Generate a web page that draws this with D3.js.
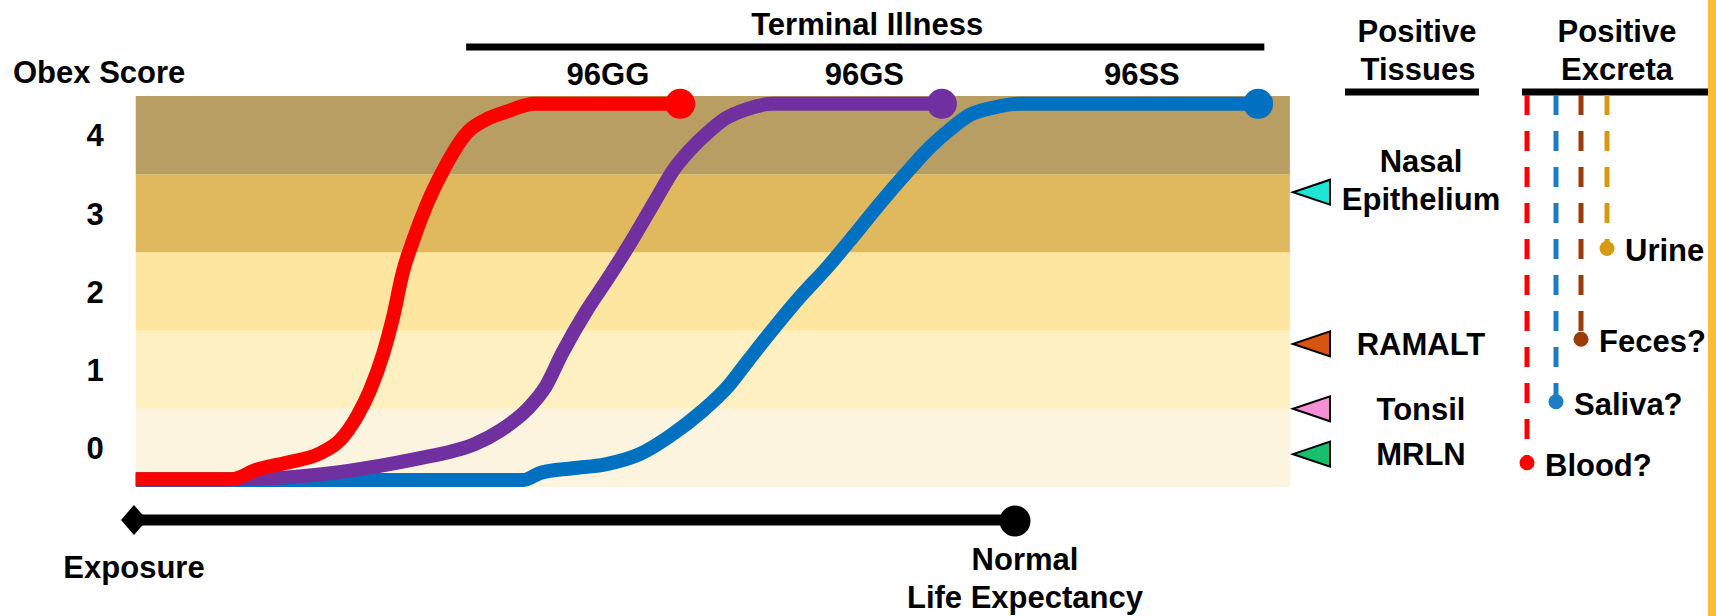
<!DOCTYPE html>
<html>
<head>
<meta charset="utf-8">
<script src="https://cdn.jsdelivr.net/npm/d3@7"></script>
<style>
  body { margin: 0; background: #fff; }
  text { font-family: "Liberation Sans", Arial, sans-serif; font-weight: bold; font-size: 31px; fill: #000; }
</style>
</head>
<body>
<svg id="chart" width="1716" height="616"></svg>
<script>
// obex score bands (score 0..4), colours light -> dark
var scoreTicks = [0, 1, 2, 3, 4];
var bandColors = ["#FCF4DE", "#FEF0C0", "#FEE6A0", "#E0B95E", "#B89E62"];

// x = % of normal life expectancy after exposure
var lifeSpan = [0, 100];
var bandSpan = [0.2, 131.2];
var terminalSpan = [37.7, 128.3];

// progression curves [time, score]
var gg = [[0.2,-0.40],[11.1,-0.40],[13.9,-0.28],[17.3,-0.19],[21.1,-0.07],[23.4,0.10],[25.3,0.40],
  [26.8,0.74],[28.3,1.21],[29.4,1.67],[30.5,2.24],[31.7,2.66],[33.3,3.13],[35.1,3.55],[37.8,4.03],
  [39.8,4.19],[42.3,4.30],[45.5,4.40],[62.0,4.40]];
var gs = [[0.2,-0.40],[11.1,-0.40],[22.6,-0.32],[26.8,-0.25],[32.5,-0.13],[35.9,-0.05],[38.7,0.05],
  [41.7,0.23],[44.7,0.50],[46.7,0.78],[48.6,1.21],[51.4,1.76],[53.7,2.15],[56.5,2.65],[59.1,3.15],
  [61.4,3.58],[63.1,3.81],[65.2,4.04],[67.1,4.21],[69.5,4.33],[72.5,4.40],[91.7,4.40]];
var ss = [[0.2,-0.41],[44.2,-0.41],[46.1,-0.32],[49.8,-0.26],[53.5,-0.21],[57.4,-0.08],[60.8,0.15],
  [64.6,0.48],[67.3,0.77],[69.6,1.10],[72.2,1.47],[75.6,1.93],[78.7,2.31],[81.6,2.70],[84.7,3.13],
  [87.7,3.52],[90.4,3.85],[92.6,4.07],[94.9,4.26],[97.5,4.35],[100.6,4.40],[127.6,4.40]];
var seriesNames = ["96GG", "96GS", "96SS"];
var seriesColors = ["#FF0000", "#7030A0", "#0070C0"];
var seriesLabelX = [53.8, 82.9, 114.4];

// positive tissues, placed at obex score
var tissues = [["Nasal", "Epithelium"], ["RAMALT"], ["Tonsil"], ["MRLN"]];
var tissueScore = [3.27, 1.33, 0.5, -0.08];
var tissueColors = ["#1EE6D7", "#D6560F", "#F78FD6", "#16BE6E"];

// positive excreta, placed at obex score
var excreta = ["Blood?", "Saliva?", "Feces?", "Urine"];
var excretaScore = [-0.19, 0.59, 1.39, 2.55];
var excretaColors = ["#FF0000", "#1A7DC6", "#9C3B0A", "#D79914"];

var svg = d3.select("#chart");

var x = d3.scaleLinear().domain(lifeSpan).range([134, 1015]);
var y = d3.scaleLinear().domain([-0.5, 4.5]).range([487, 96]);

// bands
svg.append("g").selectAll("rect")
  .data(scoreTicks)
  .join("rect")
  .attr("x", x(bandSpan[0]))
  .attr("width", x(bandSpan[1]) - x(bandSpan[0]))
  .attr("y", function(d) { return y(d + 0.5); })
  .attr("height", function(d) { return y(d - 0.5) - y(d + 0.5); })
  .attr("fill", function(d, i) { return bandColors[i]; });

// y axis labels
var yAxis = svg.append("g")
  .attr("transform", "translate(108,0)")
  .call(d3.axisLeft(y).tickValues(scoreTicks).tickSize(0).tickPadding(0).tickFormat(d3.format("d")));
yAxis.select(".domain").remove();
yAxis.selectAll("text")
  .attr("x", -13).attr("dy", "0.35em")
  .style("text-anchor", "middle")
  .style("font-size", "31px").style("font-family", "Liberation Sans, Arial, sans-serif").style("font-weight", "bold");

svg.append("text").attr("x", 13).attr("y", 83).text("Obex Score");

// curves, blue under purple under red
var line = d3.line()
  .x(function(d) { return x(d[0]); })
  .y(function(d) { return y(d[1]); })
  .curve(d3.curveMonotoneX);

var allSeries = [gg, gs, ss];
var order = [2, 1, 0];
order.forEach(function(i) {
  svg.append("path")
    .datum(allSeries[i])
    .attr("d", line)
    .attr("fill", "none")
    .attr("stroke", seriesColors[i])
    .attr("stroke-width", 14)
    .attr("stroke-linejoin", "round");
  var last = allSeries[i][allSeries[i].length - 1];
  svg.append("circle")
    .attr("cx", x(last[0])).attr("cy", y(last[1]))
    .attr("r", 15)
    .attr("fill", seriesColors[i]);
});

svg.selectAll(".slabel")
  .data(seriesNames)
  .join("text")
  .attr("class", "slabel")
  .attr("x", function(d, i) { return x(seriesLabelX[i]); })
  .attr("y", 85)
  .attr("text-anchor", "middle")
  .text(function(d) { return d; });

// terminal illness bracket
svg.append("line")
  .attr("x1", x(terminalSpan[0])).attr("x2", x(terminalSpan[1]))
  .attr("y1", 47).attr("y2", 47)
  .attr("stroke", "#000").attr("stroke-width", 7);
svg.append("text")
  .attr("x", (x(terminalSpan[0]) + x(terminalSpan[1])) / 2 + 2).attr("y", 35)
  .attr("text-anchor", "middle").text("Terminal Illness");

// life timeline
var x0 = x(lifeSpan[0]), x1 = x(lifeSpan[1]);
svg.append("line")
  .attr("x1", x0).attr("x2", x1)
  .attr("y1", 520).attr("y2", 520)
  .attr("stroke", "#000").attr("stroke-width", 11);
svg.append("path")
  .attr("d", "M" + (x0 - 13) + ",520L" + x0 + ",505L" + (x0 + 13) + ",520L" + x0 + ",535Z")
  .attr("fill", "#000");
svg.append("circle")
  .attr("cx", x1).attr("cy", 521).attr("r", 15.5)
  .attr("fill", "#000");
svg.append("text").attr("x", x0).attr("y", 578)
  .attr("text-anchor", "middle").text("Exposure");
svg.append("text").attr("x", x1 + 10).attr("y", 570)
  .attr("text-anchor", "middle").text("Normal");
svg.append("text").attr("x", x1 + 10).attr("y", 608)
  .attr("text-anchor", "middle").text("Life Expectancy");

// positive tissues
svg.append("text").attr("x", 1417).attr("y", 42).attr("text-anchor", "middle").text("Positive");
svg.append("text").attr("x", 1418).attr("y", 80).attr("text-anchor", "middle").text("Tissues");
svg.append("line").attr("x1", 1345).attr("x2", 1479).attr("y1", 92).attr("y2", 92)
  .attr("stroke", "#000").attr("stroke-width", 7);

var tis = svg.append("g").selectAll("g")
  .data(tissues)
  .join("g")
  .attr("transform", function(d, i) { return "translate(0," + y(tissueScore[i]) + ")"; });
tis.append("path")
  .attr("d", "M1293,0L1330,-12.5L1330,12.5Z")
  .attr("fill", function(d, i) { return tissueColors[i]; })
  .attr("stroke", "#000").attr("stroke-width", 2);
tis.each(function(d) {
  var g = d3.select(this);
  d.forEach(function(t, k) {
    g.append("text")
      .attr("x", 1421)
      .attr("y", d.length > 1 ? (k === 0 ? -20 : 18) : 11)
      .attr("text-anchor", "middle")
      .text(t);
  });
});

// positive excreta
svg.append("text").attr("x", 1617).attr("y", 42).attr("text-anchor", "middle").text("Positive");
svg.append("text").attr("x", 1617).attr("y", 80).attr("text-anchor", "middle").text("Excreta");
svg.append("line").attr("x1", 1522).attr("x2", 1716).attr("y1", 92).attr("y2", 92)
  .attr("stroke", "#000").attr("stroke-width", 7);

var exX = [1527, 1556, 1581, 1607];
var ex = svg.append("g").selectAll("g")
  .data(excreta)
  .join("g");
ex.append("line")
  .attr("x1", function(d, i) { return exX[i]; })
  .attr("x2", function(d, i) { return exX[i]; })
  .attr("y1", 95)
  .attr("y2", function(d, i) { return y(excretaScore[i]); })
  .attr("stroke", function(d, i) { return excretaColors[i]; })
  .attr("stroke-width", 5)
  .attr("stroke-dasharray", "20,16");
ex.append("circle")
  .attr("cx", function(d, i) { return exX[i]; })
  .attr("cy", function(d, i) { return y(excretaScore[i]); })
  .attr("r", 7.5)
  .attr("fill", function(d, i) { return excretaColors[i]; });
ex.append("text")
  .attr("x", function(d, i) { return exX[i] + 18; })
  .attr("y", function(d, i) { return y(excretaScore[i]) + 13; })
  .text(function(d) { return d; });

// orange frame edge
svg.append("rect").attr("x", 1708).attr("y", 0).attr("width", 8).attr("height", 616)
  .attr("fill", "#FABE32");
</script>
</body>
</html>
